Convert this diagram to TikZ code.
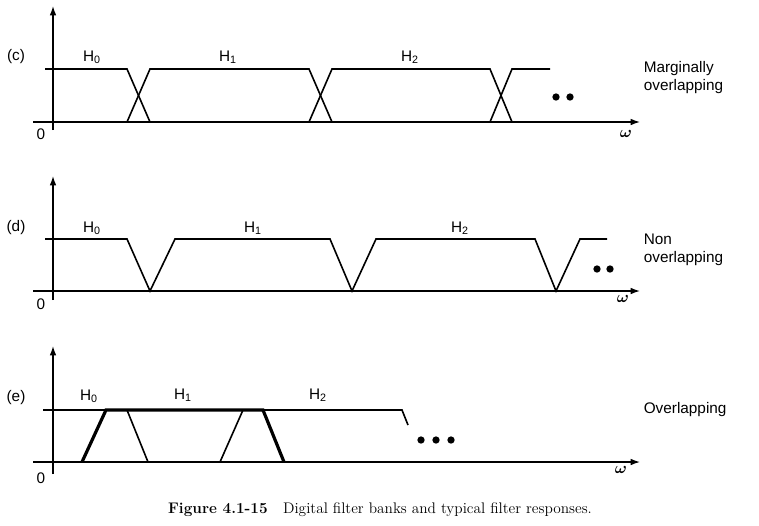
\documentclass[tikz,border=0pt]{standalone}
\usepackage{amsmath}
\usepackage{fontspec}
\usetikzlibrary{arrows.meta}
\newfontfamily\lab{Liberation Sans}
\newcommand{\hs}[1]{H$_{\text{\lab#1}}$}
\begin{document}
\begin{tikzpicture}[x=0.75pt,y=-0.75pt,line width=1.2pt,
  lbl/.style={font=\lab\fontsize{11.5}{13.5}\selectfont,inner sep=0pt},
  ax/.style={-{Latex[length=7pt,width=5pt]},line width=1pt},
  thick2/.style={line width=2.4pt},
  dot/.style={circle,fill=black,inner sep=0pt,minimum size=5.5pt}]
\useasboundingbox (0,0) rectangle (759,525);
% panel c
\draw[ax] (53,130) -- (53,6);
\draw[ax] (33,122) -- (640,122);
\draw (45,69) -- (127,69) -- (150,122);
\draw (127,122) -- (150,69) -- (309,69) -- (332,122);
\draw (309,122) -- (332,69) -- (490,69) -- (512,122);
\draw (490,122) -- (512,69) -- (550,69);
\node[dot] (c1) at (556,97) {}; \node[dot] (c2) at (570,97) {};
\node[lbl] (cl) at (16,57) {(c)};
\node[lbl] (ch0) at (92,57) {\hs{0}};
\node[lbl] (ch1) at (228,57) {\hs{1}};
\node[lbl] (ch2) at (410,57) {\hs{2}};
\node[lbl,align=left,anchor=west] (ct) at (643,78) {Marginally\\overlapping};
\node[lbl] (c0) at (41,134) {0};
\node[lbl] (cw) at (626,134) {$\boldsymbol{\omega}$};
% panel d
\draw[ax] (53,300) -- (53,176);
\draw[ax] (33,291) -- (640,291);
\draw (45,239) -- (127,239) -- (150,291) -- (175,239) -- (330,239) -- (352,291) -- (376,239) -- (535,239) -- (556,291) -- (580,239) -- (607,239);
\node[dot] (d1) at (597,269) {}; \node[dot] (d2) at (610,269) {};
\node[lbl] (dl) at (16,228) {(d)};
\node[lbl] (dh0) at (92,228) {\hs{0}};
\node[lbl] (dh1) at (253,228) {\hs{1}};
\node[lbl] (dh2) at (460,228) {\hs{2}};
\node[lbl,align=left,anchor=west] (dt) at (643,250) {Non\\overlapping};
\node[lbl] (d0) at (41,304) {0};
\node[lbl] (dw) at (623,299) {$\boldsymbol{\omega}$};
% panel e
\draw[ax] (53,474) -- (53,346);
\draw[ax] (33,462) -- (640,462);
\draw (43,410) -- (402,410) -- (408,425);
\draw[thick2] (82,462) -- (106,410) -- (263,410) -- (284,462);
\draw (127,410) -- (148,462);
\draw (220,462) -- (243,410);
\node[dot] (e1) at (421,440) {}; \node[dot] (e2) at (436,440) {}; \node[dot] (e3) at (451,440) {};
\node[lbl] (el) at (16,398) {(e)};
\node[lbl] (eh0) at (89,396) {\hs{0}};
\node[lbl] (eh1) at (183,395) {\hs{1}};
\node[lbl] (eh2) at (318,395) {\hs{2}};
\node[lbl,anchor=west] (et) at (643,410) {Overlapping};
\node[lbl] (e0) at (41,478) {0};
\node[lbl] (ew) at (621,470) {$\boldsymbol{\omega}$};
\node[inner sep=0pt,font=\fontsize{11.5}{13}\selectfont] (cap) at (380,510) {\textbf{Figure 4.1-15}\quad Digital filter banks and typical filter responses.};
\end{tikzpicture}
\end{document}
